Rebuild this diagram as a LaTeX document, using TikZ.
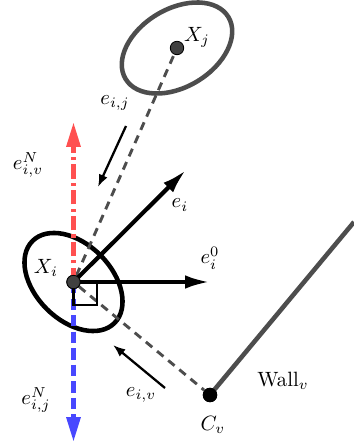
\documentclass[tikz,border=0pt]{standalone}
\usepackage{amsmath}
\usepackage{xcolor}
\usepackage{tikz}
\usetikzlibrary{arrows.meta,positioning,calc}
\definecolor{WallGray}{RGB}{77,77,77}
\definecolor{DotGray}{RGB}{64,64,64}
\definecolor{NormRed}{RGB}{255,80,80}
\definecolor{NormBlue}{RGB}{72,72,255}

\begin{document}
\begin{tikzpicture}[
    x=0.017cm,y=0.017cm,
    agent/.style={circle, draw=black, fill=DotGray, inner sep=0pt, minimum size=6.5pt},
    corner/.style={circle, fill=black, inner sep=0pt, minimum size=7pt},
    cov/.style={line width=2.2pt},
    link/.style={draw=WallGray, line width=1.4pt, dash pattern=on 4pt off 3pt},
    vec/.style={-{Latex[length=12pt,width=6.5pt]}, line width=2pt},
    unitdir/.style={-{Latex[length=6pt,width=4.5pt]}, line width=1.1pt},
    redline/.style={-{Triangle[length=12pt,width=6.5pt]}, draw=NormRed, line width=2.2pt, dash pattern=on 7pt off 2pt on 1.5pt off 2pt},
    blueline/.style={-{Triangle[length=12pt,width=6.5pt]}, draw=NormBlue, line width=2.2pt, dash pattern=on 5.5pt off 2.5pt}
  ]
    \useasboundingbox (0,0) rectangle (354,446);
    % covariance ellipses
    \draw[cov, draw=WallGray] (177,398) ellipse[x radius=60, y radius=39, rotate=31];
    \draw[cov] (73.5,164) ellipse[x radius=58, y radius=38, rotate=-45];
    \node[agent] (Xi) at (73.5,164) {};
    \node[agent] (Xj) at (177,398) {};
    \node[corner] (Cv) at (210,51) {};
    \coordinate (wallend) at (354,224);
    \coordinate (nup) at (73.5,324);
    \coordinate (ndown) at (73.5,4);
    \coordinate (ei) at (186,276);
    \coordinate (eizero) at (210,164);
    \coordinate (eijtail) at (126,320);
    \coordinate (eijtip) at (98,259);
    \coordinate (eivtail) at (165,58);
    \coordinate (eivtip) at (113,101);
    % wall and links
    \draw[draw=WallGray, line width=2.2pt] (Cv.center) -- (wallend);
    \draw[link] (Xi) -- (Xj);
    \draw[link] (Xi) -- (Cv);
    % normals
    \draw[redline] (Xi.center) -- (nup);
    \draw[blueline] (Xi.center) -- (ndown);
    \draw[line width=1pt] (Xi.center) -| ($(Xi.center)+(23.5,-23)$) -| (Xi.center);
    \draw[vec] (Xi.center) -- (ei);
    \draw[vec] (Xi.center) -- (eizero);
    \draw[unitdir] (eijtail) -- (eijtip);
    \draw[unitdir] (eivtail) -- (eivtip);
    \node[agent] at (Xi) {};
    \node[corner] at (Cv) {};
    % labels
    \foreach \x/\y/\name/\txt in {197/409/lXj/X_j, 46/178/lXi/X_i, 180/241/lei/e_i, 210/188/leizero/e_i^0,
        28/281/lnv/{e_{i,v}^N}, 115/343/leij/{e_{i,j}}, 36/46/lnj/{e_{i,j}^N}, 141/51/leiv/{e_{i,v}},
        213/21/lCv/C_v, 283/65/lwall/\text{Wall}_v} {
      \node (\name) at (\x,\y) {$\txt$};
    }
  \end{tikzpicture}
\end{document}
